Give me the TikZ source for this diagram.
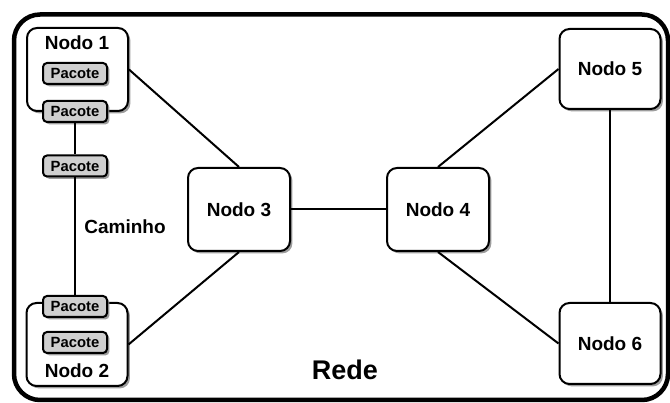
\documentclass[tikz,border=0pt]{standalone}
\usepackage{fontspec}
\setmainfont{Liberation Sans}
\usetikzlibrary{shadows}
\tikzset{
  x=1pt, y=-1pt,
  shade/.style={drop shadow={shadow xshift=2.4pt, shadow yshift=-2.4pt, fill=black!45, opacity=0.85}},
  netnode/.style={draw, line width=2pt, rounded corners=10pt, fill=white, shade,
    minimum width=101pt, minimum height=83pt, inner sep=0pt,
    font=\fontsize{19}{19}\selectfont\bfseries},
  packet/.style={draw, line width=2pt, rounded corners=4pt, fill=black!19, shade,
    minimum width=64pt, minimum height=21pt, inner sep=0pt,
    font=\fontsize{14.8}{14.8}\selectfont\bfseries},
  lbl/.style={inner sep=0pt, font=\fontsize{19}{19}\selectfont\bfseries},
  link/.style={line width=2pt},
}
\begin{document}
\begin{tikzpicture}
\useasboundingbox (0,0) rectangle (670,403);
% network frame
\node[draw, line width=4.5pt, rounded corners=26pt, minimum width=654pt, minimum height=385.5pt,
      inner sep=0pt] (frame) at (341,207.25) {};

% nodes
\node[netnode] (n1) at (77.5,69.5) {};
\node[lbl] (n1l) at (77,43) {Nodo 1};
\node[netnode] (n2) at (77,344.5) {};
\node[lbl] (n2l) at (77,371) {Nodo 2};
\node[netnode, minimum width=102pt] (n3) at (239,209.5) {Nodo 3};
\node[netnode, minimum width=102pt] (n4) at (438,209.5) {Nodo 4};
\node[netnode, minimum height=80pt] (n5) at (610,69) {Nodo 5};
\node[netnode, minimum height=81pt] (n6) at (610,343.5) {Nodo 6};

% packets
\node[packet] (p1) at (75,73.5) {Pacote};
\node[packet] (p2) at (75,111.5) {Pacote};
\node[packet] (p3) at (75,166) {Pacote};
\node[packet] (p4) at (75,306.5) {Pacote};
\node[packet] (p5) at (75,342.5) {Pacote};

% path between the packets
\draw[link] (p2.south) -- (p3.north);
\draw[link] (p3.south) -- (p4.north);
\node[lbl] (path) at (125,227) {Caminho};

% links
\draw[link] (n1.east) -- (n3.north);
\draw[link] (n2.east) -- (n3.south);
\draw[link] (n3.east) -- (n4.west);
\draw[link] (n4.north) -- (n5.west);
\draw[link] (n4.south) -- (n6.west);
\draw[link] (n5.south) -- (n6.north);

\node[lbl, font=\fontsize{27}{27}\selectfont\bfseries] (rede) at (345,370) {Rede};
\end{tikzpicture}
\end{document}
